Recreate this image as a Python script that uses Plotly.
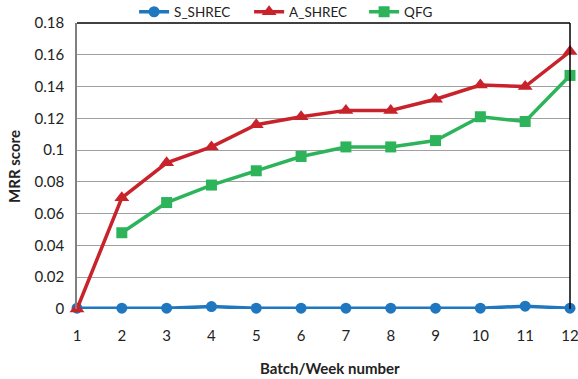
import plotly.graph_objects as go

weeks = [1, 2, 3, 4, 5, 6, 7, 8, 9, 10, 11, 12]
s_shrec = [0.0005, 0.0005, 0.0005, 0.0015, 0.0005, 0.0005, 0.0005, 0.0005, 0.0005, 0.0005, 0.0018, 0.0005]
a_shrec = [0.0, 0.070, 0.092, 0.102, 0.116, 0.121, 0.125, 0.125, 0.132, 0.141, 0.140, 0.162]
qfg_weeks = [2, 3, 4, 5, 6, 7, 8, 9, 10, 11, 12]
qfg = [0.048, 0.067, 0.078, 0.087, 0.096, 0.102, 0.102, 0.106, 0.121, 0.118, 0.147]
y_ticks = [0, 0.02, 0.04, 0.06, 0.08, 0.1, 0.12, 0.14, 0.16, 0.18]
y_tick_labels = ["0", "0.02", "0.04", "0.06", "0.08", "0.1", "0.12", "0.14", "0.16", "0.18"]

fig = go.Figure()
fig.add_trace(go.Scatter(x=weeks, y=s_shrec, name="S_SHREC", mode="lines+markers",
                         line=dict(color="#1F77C0", width=3.5),
                         marker=dict(symbol="circle", size=11, color="#1F77C0"),
                         cliponaxis=False))
fig.add_trace(go.Scatter(x=weeks, y=a_shrec, name="A_SHREC", mode="lines+markers",
                         line=dict(color="#C8222A", width=3.5),
                         marker=dict(symbol="triangle-up", size=13, color="#C8222A"),
                         cliponaxis=False))
fig.add_trace(go.Scatter(x=qfg_weeks, y=qfg, name="QFG", mode="lines+markers",
                         line=dict(color="#2DB45A", width=3.5),
                         marker=dict(symbol="square", size=11, color="#2DB45A"),
                         cliponaxis=False))

fig.update_layout(
    width=578, height=379,
    margin=dict(l=77, r=8, t=23, b=70, autoexpand=False),
    paper_bgcolor="white", plot_bgcolor="white",
    font=dict(family="Lato, Open Sans, sans-serif", size=15, color="#222"),
    legend=dict(orientation="h", x=0.232, xanchor="left", xref="container",
                y=1.0385, yref="paper", yanchor="middle", font=dict(size=13.5),
                tracegroupgap=0, entrywidth=70, entrywidthmode="pixels",
                bgcolor="rgba(0,0,0,0)"),
    showlegend=True,
    annotations=[
        dict(text="<b>MRR score</b>", xref="paper", yref="paper", x=-0.128, y=0.5,
             textangle=-90, showarrow=False, xanchor="center", yanchor="middle",
             font=dict(size=15)),
        dict(text="<b>Batch/Week number</b>", xref="paper", yref="paper", x=0.513,
             y=-0.207, showarrow=False, xanchor="center", yanchor="middle",
             font=dict(size=15)),
    ],
)
fig.update_xaxes(range=[1, 12], tickvals=weeks, showgrid=False, zeroline=False,
                 showline=False, ticks="", automargin=False, ticklabelstandoff=16,
                 ticklabeloverflow="allow")
fig.update_yaxes(range=[0, 0.18], tickvals=y_ticks, ticktext=y_tick_labels,
                 showgrid=True, gridcolor="#A0A0A0", gridwidth=1.3, zeroline=False,
                 showline=True, linecolor="#808080", linewidth=1.5, automargin=False,
                 ticks="", ticklabelstandoff=8, ticklabeloverflow="allow")
fig.add_shape(type="line", xref="paper", yref="paper", x0=0, x1=1, y0=1, y1=1,
              line=dict(color="black", width=1.5))
fig.add_shape(type="line", xref="paper", yref="paper", x0=1, x1=1, y0=0, y1=1,
              line=dict(color="black", width=1.5))

fig.write_html("out.html", config={"displayModeBar": False},
               post_script="document.body.style.margin='0';")
